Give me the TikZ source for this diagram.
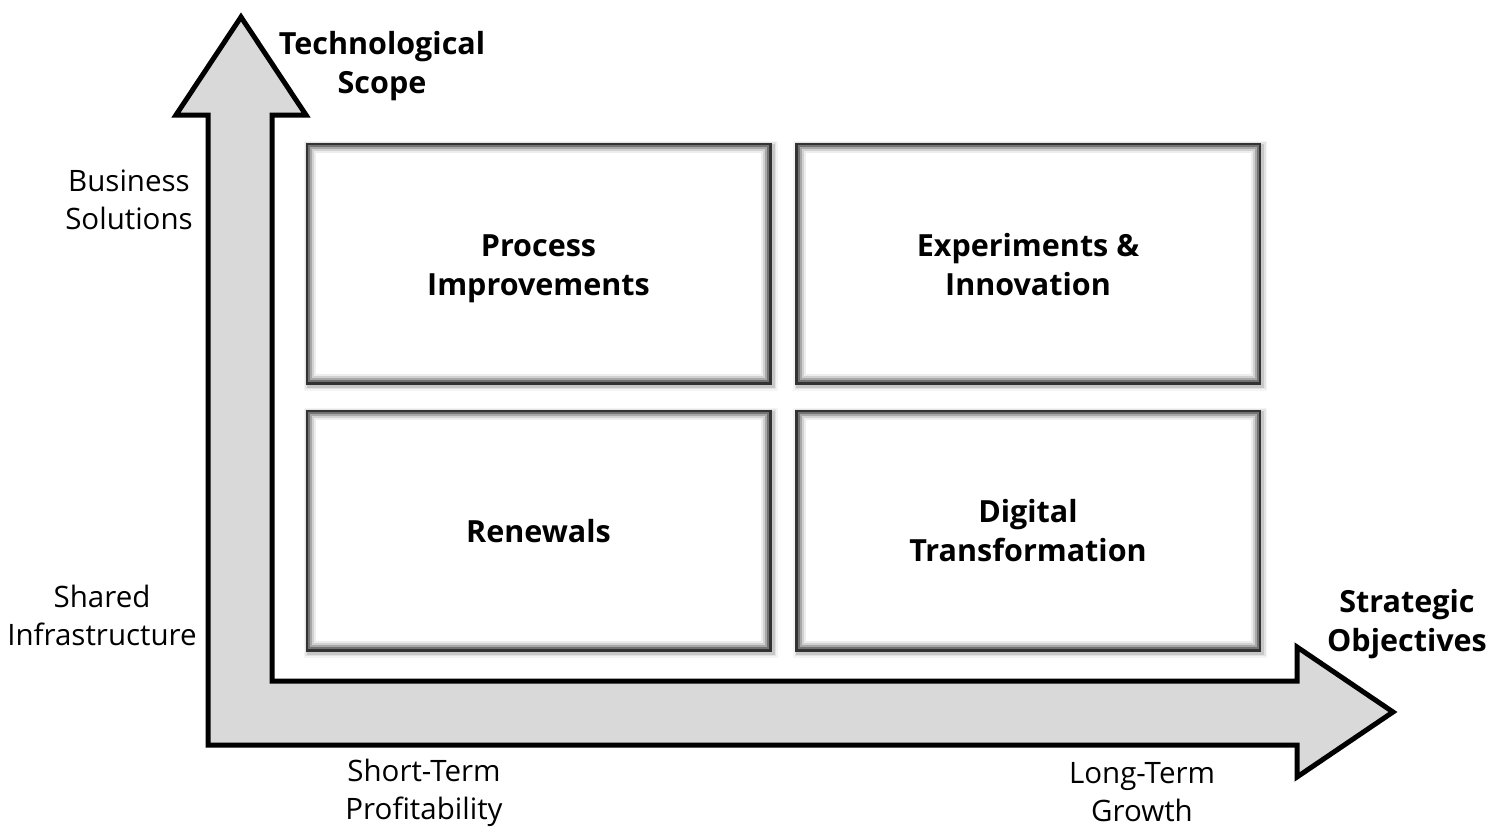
\documentclass[tikz,border=0pt]{standalone}
\usepackage{fontspec}
\setmainfont{Open Sans}
\definecolor{arrowfill}{HTML}{D9D9D9}
\definecolor{boxdark}{HTML}{333333}
\begin{document}
\begin{tikzpicture}[x=1pt,y=-1pt,
  qbox/.style={draw=boxdark, line width=5pt, fill=white,
    minimum width=461pt, minimum height=237pt, inner sep=0pt,
    preaction={draw=black, line width=13pt, opacity=0.04, transform canvas={shift={(2pt,-2pt)}}},
    preaction={draw=black, line width=10pt, opacity=0.07, transform canvas={shift={(2pt,-2pt)}}},
    preaction={draw=black, line width=7pt, opacity=0.12, transform canvas={shift={(2pt,-2pt)}}}},
  lbl/.style={align=center, inner sep=0pt, font=\fontsize{29.5}{38}\selectfont},
  blbl/.style={align=center, inner sep=0pt, font=\bfseries\fontsize{30.5}{39}\selectfont},
  ishade/.style={line width=2pt}
]
\useasboundingbox (0,0) rectangle (1500,835);

% L-shaped double arrow
\draw[line width=5pt, fill=arrowfill, line join=miter, miter limit=4]
  (272,115) -- (272,681) -- (1297,681) -- (1297,647) -- (1393,712)
  -- (1297,777) -- (1297,745) -- (208,745) -- (208,115) -- (176,115)
  -- (241,17) -- (306,115) -- cycle;

% Quadrant boxes
\node[qbox] (pi) at (538.5,263.5) {};
\node[qbox] (ei) at (1028,263.5) {};
\node[qbox] (re) at (538.5,530.5) {};
\node[qbox] (dt) at (1028,530.5) {};

% inner shading of the boxes
\foreach \n in {pi,ei,re,dt}{
  \foreach \d/\c in {3.5/55,5.5/34,7.5/18,9.5/7}{
    \draw[ishade, black!\c] ([shift={(\d,-\d)}]\n.south west) rectangle ([shift={(-\d,\d)}]\n.north east);
  }
}

% box labels
\node[blbl] (pit) at ([yshift=-5pt]pi.center) {Process\\Improvements};
\node[blbl] (eit) at ([yshift=-1pt]ei.center) {Experiments \&\\Innovation};
\node[blbl] (ret) at ([yshift=-1pt]re.center) {Renewals};
\node[blbl] (dtt) at ([yshift=0pt]dt.center) {Digital\\Transformation};

% axis labels
\node[blbl] (ts) at (382,66) {Technological\\Scope};
\node[blbl] (so) at (1407,624) {Strategic\\Objectives};
\node[lbl] (bs) at (129,200) {Business\\Solutions};
\node[lbl] (si) at (102,615) {Shared\\Infrastructure};
\node[lbl] (st) at (424,793) {Short-Term\\Profitability};
\node[lbl] (lt) at (1142,792) {Long-Term\\Growth};
\end{tikzpicture}
\end{document}
